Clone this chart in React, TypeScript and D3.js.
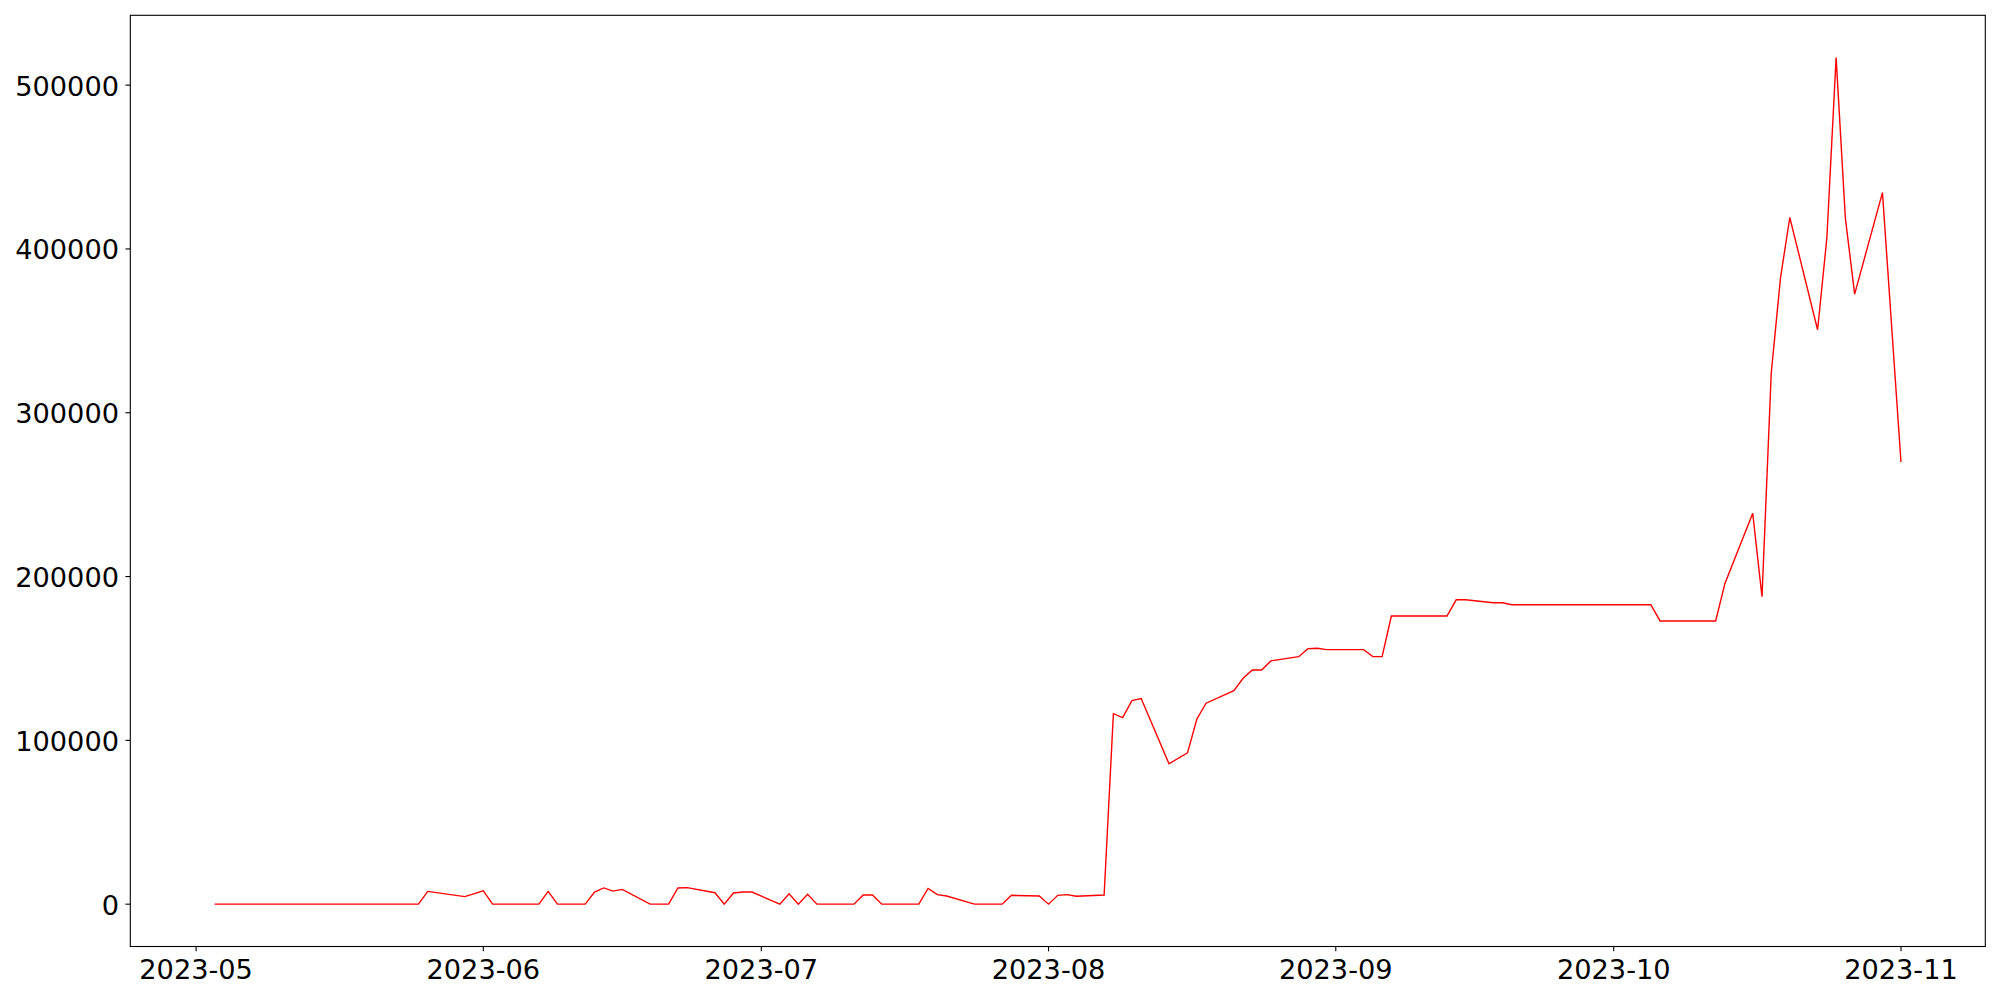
import React from "react";
import * as d3 from "d3";

const dates: string[] = [
  "2023-05-03", "2023-05-25", "2023-05-26", "2023-05-30", "2023-06-01", "2023-06-02",
  "2023-06-07", "2023-06-08", "2023-06-09", "2023-06-12", "2023-06-13", "2023-06-14",
  "2023-06-15", "2023-06-16", "2023-06-19", "2023-06-21", "2023-06-22", "2023-06-23",
  "2023-06-26", "2023-06-27", "2023-06-28", "2023-06-29", "2023-06-30", "2023-07-03",
  "2023-07-04", "2023-07-05", "2023-07-06", "2023-07-07", "2023-07-11", "2023-07-12",
  "2023-07-13", "2023-07-14", "2023-07-18", "2023-07-19", "2023-07-20", "2023-07-21",
  "2023-07-24", "2023-07-27", "2023-07-28", "2023-07-31", "2023-08-01", "2023-08-02",
  "2023-08-03", "2023-08-04", "2023-08-07", "2023-08-08", "2023-08-09", "2023-08-10",
  "2023-08-11", "2023-08-14", "2023-08-16", "2023-08-17", "2023-08-18", "2023-08-21",
  "2023-08-22", "2023-08-23", "2023-08-24", "2023-08-25", "2023-08-28", "2023-08-29",
  "2023-08-30", "2023-08-31", "2023-09-04", "2023-09-05", "2023-09-06", "2023-09-07",
  "2023-09-13", "2023-09-14", "2023-09-15", "2023-09-18", "2023-09-19", "2023-09-20",
  "2023-10-05", "2023-10-06", "2023-10-12", "2023-10-13", "2023-10-16", "2023-10-17",
  "2023-10-18", "2023-10-19", "2023-10-20", "2023-10-23", "2023-10-24", "2023-10-25",
  "2023-10-26", "2023-10-27", "2023-10-30", "2023-11-01",
];

const values: number[] = [
  0, 0, 7800, 4600, 8200, 0,
  0, 7800, 0, 0, 7400, 9900,
  8000, 9000, 0, 0, 9900, 10100,
  7000, 0, 6800, 7400, 7400, 0,
  6400, 0, 6000, 0, 0, 5600,
  5600, 0, 0, 9600, 5800, 5000,
  0, 0, 5400, 5000, 0, 5400,
  5800, 4800, 5600, 116300, 113900, 124300,
  125500, 85700, 92400, 112900, 122700, 130400,
  137900, 143000, 143000, 148500, 151100, 156000,
  156200, 155400, 155400, 151100, 151100, 175900,
  175900, 185800, 185800, 184000, 184000, 182800,
  182800, 172900, 172900, 195800, 238600, 187700,
  324400, 382500, 419200, 350700, 406600, 516800,
  418700, 372400, 434400, 269900,
];

const xTickLabels: string[] = [
  "2023-05", "2023-06", "2023-07", "2023-08", "2023-09", "2023-10", "2023-11",
];
const yTickValues: number[] = [0, 100000, 200000, 300000, 400000, 500000];

const W = 2000;
const H = 1000;
const L = 130.3;
const R = 1985.3;
const T = 15.3;
const B = 946.5;
const FONT = 27.2;

export default function App() {
  const parse = d3.timeParse("%Y-%m-%d");
  const pts = dates.map((d, i) => ({ x: parse(d) as Date, y: values[i] }));

  const xExt = d3.extent(pts, (p) => p.x.getTime()) as [number, number];
  const xPad = (xExt[1] - xExt[0]) * 0.05;
  const x = d3
    .scaleTime()
    .domain([new Date(xExt[0] - xPad), new Date(xExt[1] + xPad)])
    .range([L, R]);

  const yExt = d3.extent(pts, (p) => p.y) as [number, number];
  const yPad = (yExt[1] - yExt[0]) * 0.05;
  const y = d3
    .scaleLinear()
    .domain([yExt[0] - yPad, yExt[1] + yPad])
    .range([B, T]);

  const line = d3
    .line<{ x: Date; y: number }>()
    .x((p) => x(p.x))
    .y((p) => y(p.y));

  const xTicks = xTickLabels.map((s) => ({ label: s, pos: x(d3.timeParse("%Y-%m")(s) as Date) }));
  const tickLen = 4.86;
  const font = "'DejaVu Sans', sans-serif";

  return (
    <svg
      width={W}
      height={H}
      style={{ position: "absolute", left: 0, top: 0, background: "#fff" }}
    >
      <rect x={0} y={0} width={W} height={H} fill="#fff" />
      <path d={line(pts) || ""} fill="none" stroke="#ff0000" strokeWidth={1.4} strokeLinejoin="miter" />
      <rect x={L} y={T} width={R - L} height={B - T} fill="none" stroke="#000" strokeWidth={1.1} />
      {yTickValues.map((v) => (
        <g key={v}>
          <line x1={L - tickLen} x2={L} y1={y(v)} y2={y(v)} stroke="#000" strokeWidth={1.1} />
          <text
            x={L - 11.3}
            y={y(v) + 10.5}
            textAnchor="end"
            fontFamily={font}
            fontSize={FONT}
            fill="#000"
          >
            {d3.format("d")(v)}
          </text>
        </g>
      ))}
      {xTicks.map((t) => (
        <g key={t.label}>
          <line x1={t.pos} x2={t.pos} y1={B} y2={B + tickLen} stroke="#000" strokeWidth={1.1} />
          <text
            x={t.pos}
            y={979}
            textAnchor="middle"
            fontFamily={font}
            fontSize={FONT}
            fill="#000"
          >
            {t.label}
          </text>
        </g>
      ))}
    </svg>
  );
}
